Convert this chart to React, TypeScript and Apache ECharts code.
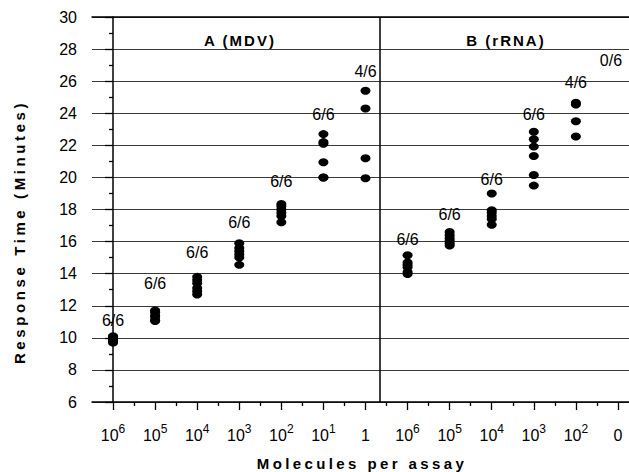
import React, { useEffect, useRef } from "react";
import * as echarts from "echarts";

// ---- data ----
const mdvLabels = ["10^6", "10^5", "10^4", "10^3", "10^2", "10^1", "1"];
const rrnaLabels = ["10^6", "10^5", "10^4", "10^3", "10^2", "0"];

const mdvTimes: number[][] = [
  [10.1, 10.0, 9.95, 9.85, 9.8, 9.7],
  [11.7, 11.6, 11.4, 11.3, 11.1, 11.05],
  [13.8, 13.6, 13.4, 13.1, 12.9, 12.7],
  [15.9, 15.6, 15.4, 15.2, 15.0, 14.55],
  [18.35, 18.2, 18.0, 17.8, 17.6, 17.2],
  [22.7, 22.2, 22.1, 20.95, 20.0, 20.0],
  [25.4, 24.3, 21.2, 19.95],
];
const rrnaTimes: number[][] = [
  [15.15, 14.7, 14.55, 14.4, 14.1, 13.98],
  [16.6, 16.4, 16.2, 16.05, 15.9, 15.75],
  [19.0, 17.95, 17.8, 17.6, 17.4, 17.05],
  [22.85, 22.38, 21.92, 21.34, 20.15, 19.49],
  [24.65, 24.55, 23.5, 22.55],
  [],
];
const mdvFractions = ["6/6", "6/6", "6/6", "6/6", "6/6", "6/6", "4/6"];
const mdvFractionY = [11.1, 13.4, 15.3, 17.2, 19.75, 23.9, 26.6];
const rrnaFractions = ["6/6", "6/6", "6/6", "6/6", "4/6", "0/6"];
const rrnaFractionY = [16.1, 17.7, 19.85, 23.95, 25.9, 27.3];

const yTicks = { min: 6, max: 30, step: 2 };
const dividerAt = 6.34;

const FONT = "'Liberation Sans', Arial, Helvetica, sans-serif";

export default function App() {
  const ref = useRef<HTMLDivElement>(null);

  useEffect(() => {
    if (!ref.current) return;
    const chart = echarts.init(ref.current, null, { renderer: "svg" });

    const tickLabels = [...mdvLabels, ...rrnaLabels];
    const nCols = tickLabels.length; // 13
    const xMin = -0.5;
    const xMax = nCols - 0.5;
    const cats: string[] = [];
    for (let i = 0; i <= nCols * 2; i++) cats.push("c" + i);
    const catLabel = (i: number) => {
      if (i % 2 !== 1) return "";
      const t = tickLabels[(i - 1) / 2];
      if (t.includes("^")) {
        const [b, s] = t.split("^");
        return `{b|${b}}{s|${s}}`;
      }
      return `{b|${t}}`;
    };

    const points: number[][] = [];
    mdvTimes.forEach((g, gi) => g.forEach((v) => points.push([gi, v])));
    rrnaTimes.forEach((g, gi) =>
      g.forEach((v) => points.push([mdvLabels.length + gi, v]))
    );
    const fracs: any[] = [];
    mdvFractions.forEach((t, i) => fracs.push({ value: [i, mdvFractionY[i], t] }));
    rrnaFractions.forEach((t, i) => {
      const item: any = { value: [mdvLabels.length + i, rrnaFractionY[i], t] };
      if (i === rrnaFractions.length - 1) item.label = { offset: [-7, 0] };
      fracs.push(item);
    });

    const option: any = {
      animation: false,
      backgroundColor: "#fff",
      textStyle: { fontFamily: FONT },
      grid: { left: 92, right: 1, top: 17, bottom: 70, containLabel: false },
      xAxis: [
        { type: "value", min: xMin, max: xMax, show: false },
        {
          type: "category",
          data: cats,
          boundaryGap: false,
          position: "bottom",
          axisLine: { show: true, lineStyle: { color: "#000", width: 1.5 } },
          axisTick: {
            show: true,
            interval: (i: number) => i % 2 === 0 && i > 0 && i < nCols * 2,
            length: 4,
            lineStyle: { color: "#000", width: 1.3 },
          },
          axisLabel: { show: false },
          splitLine: { show: false },
        },
        {
          type: "category",
          data: cats,
          boundaryGap: false,
          position: "bottom",
          axisLine: { show: false },
          axisTick: {
            show: true,
            interval: (i: number) => i % 2 === 1,
            length: 8,
            lineStyle: { color: "#000", width: 1.3 },
          },
          axisLabel: {
            show: true,
            interval: (i: number) => i % 2 === 1,
            margin: 21,
            formatter: (v: string) => catLabel(parseInt(v.slice(1), 10)),
            rich: {
              b: {
                fontSize: 16,
                fontFamily: FONT,
                color: "#000",
                lineHeight: 20,
                verticalAlign: "bottom",
              },
              s: {
                fontSize: 12,
                fontFamily: FONT,
                color: "#000",
                lineHeight: 12,
                verticalAlign: "top",
              },
            },
          },
          splitLine: { show: false },
        },
        {
          type: "value",
          min: xMin,
          max: xMax,
          position: "top",
          axisLine: { show: true, lineStyle: { color: "#000", width: 1.5 } },
          axisTick: { show: false },
          axisLabel: { show: false },
          splitLine: { show: false },
        },
      ],
      yAxis: {
        type: "value",
        min: yTicks.min,
        max: yTicks.max,
        interval: yTicks.step,
        axisLine: { show: true, lineStyle: { color: "#000", width: 1.5 } },
        axisTick: { show: true, length: 8, lineStyle: { color: "#000", width: 1.3 } },
        minorTick: {
          show: true,
          splitNumber: 2,
          length: 4,
          lineStyle: { color: "#000", width: 1.3 },
        },
        minorSplitLine: { show: false },
        axisLabel: { margin: 15, fontSize: 16, color: "#000", fontFamily: FONT },
        splitLine: { show: true, lineStyle: { color: "#3a3a3a", width: 1 } },
      },
      series: [
        {
          type: "scatter",
          xAxisIndex: 0,
          yAxisIndex: 0,
          symbol: "circle",
          symbolSize: [10, 8],
          itemStyle: { color: "#000", opacity: 1 },
          data: points,
          silent: true,
          markLine: {
            silent: true,
            symbol: "none",
            label: { show: false },
            lineStyle: { color: "#000", width: 1.5, type: "solid", opacity: 1 },
            data: [{ xAxis: dividerAt }],
          },
        },
        {
          type: "scatter",
          xAxisIndex: 0,
          yAxisIndex: 0,
          symbolSize: 0.1,
          itemStyle: { color: "rgba(0,0,0,0)", opacity: 1 },
          silent: true,
          label: {
            show: true,
            position: "inside",
            formatter: (p: any) => p.value[2],
            fontSize: 16,
            color: "#000",
            opacity: 1,
            fontFamily: FONT,
          },
          data: fracs,
        },
      ],
      graphic: [
        {
          type: "text",
          style: {
            text: "A (MDV)",
            x: 240,
            y: 40,
            fill: "#000",
            font: `bold 15px ${FONT}`,
            textAlign: "center",
            textVerticalAlign: "middle",
          },
        },
        {
          type: "text",
          style: {
            text: "B (rRNA)",
            x: 506,
            y: 40,
            fill: "#000",
            font: `bold 15px ${FONT}`,
            textAlign: "center",
            textVerticalAlign: "middle",
          },
        },
        {
          type: "text",
          style: {
            text: "Molecules per assay",
            x: 362,
            y: 463,
            fill: "#000",
            font: `bold 15px ${FONT}`,
            textAlign: "center",
            textVerticalAlign: "middle",
          },
        },
        {
          type: "text",
          x: 19,
          y: 232,
          rotation: Math.PI / 2,
          style: {
            text: "Response Time (Minutes)",
            x: 0,
            y: 0,
            fill: "#000",
            font: `bold 15px ${FONT}`,
            textAlign: "center",
            textVerticalAlign: "middle",
          },
        },
      ],
    };

    chart.setOption(option);

    const spacing: Record<string, string> = {
      "A (MDV)": "2px",
      "B (rRNA)": "2px",
      "Molecules per assay": "3.4px",
      "Response Time (Minutes)": "3.6px",
    };
    const applySpacing = () => {
      const root = ref.current;
      if (!root) return;
      root.querySelectorAll("text").forEach((t) => {
        const s = spacing[(t.textContent || "").trim()];
        if (s) t.setAttribute("letter-spacing", s);
      });
    };
    applySpacing();
    chart.on("finished", applySpacing);

    return () => {
      chart.dispose();
    };
  }, []);

  return (
    <div
      style={{
        position: "fixed",
        left: 0,
        top: 0,
        width: 629,
        height: 472,
        overflow: "hidden",
        background: "#fff",
      }}
    >
      <div ref={ref} style={{ width: 640, height: 472 }} />
    </div>
  );
}
